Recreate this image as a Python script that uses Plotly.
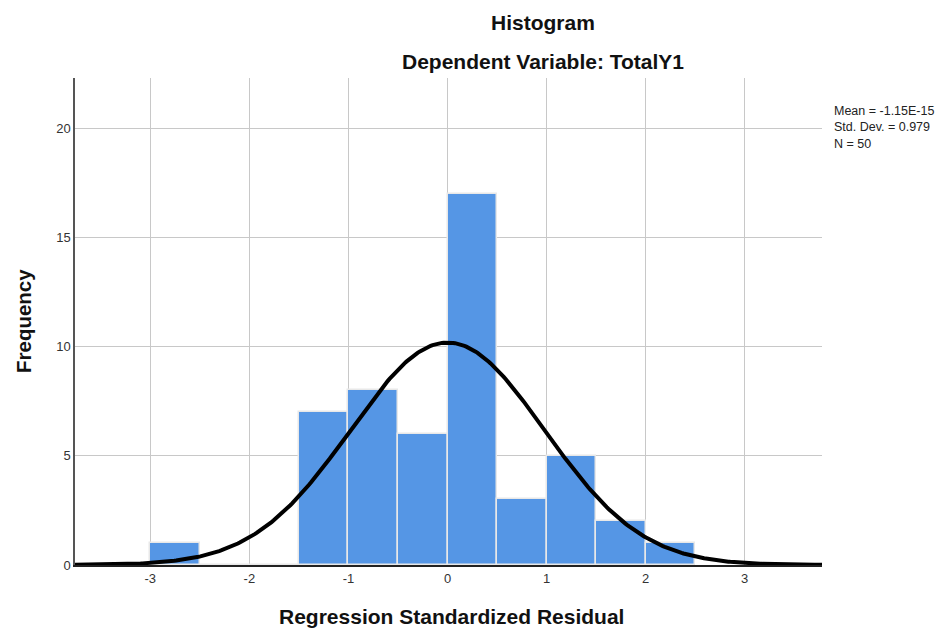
import numpy as np
import plotly.graph_objects as go

bin_left = [-3.0, -2.5, -2.0, -1.5, -1.0, -0.5, 0.0, 0.5, 1.0, 1.5, 2.0]
counts = [1, 0, 0, 7, 8, 6, 17, 3, 5, 2, 1]
bin_width = 0.5
mean = -1.15e-15
sd = 0.979
n = 50
x_ticks = [-3, -2, -1, 0, 1, 2, 3]
y_ticks = [0, 5, 10, 15, 20]
stats_lines = ["Mean = -1.15E-15", "Std. Dev. = 0.979", "N = 50"]

centers = [b + bin_width / 2 for b in bin_left]
xc = np.linspace(-3.76, 3.78, 400)
yc = n * bin_width / (sd * np.sqrt(2 * np.pi)) * np.exp(-0.5 * ((xc - mean) / sd) ** 2)

W, H = 947, 630
ML, MR, MT, MB = 67, 133, 70, 73
PW, PH = W - ML - MR, H - MT - MB
OFF = 8  # page body margin


def px(sx):
    return (sx - OFF - ML) / PW


def py(sy):
    return (H - MB - (sy - OFF)) / PH


fig = go.Figure()
fig.add_trace(go.Bar(x=centers, y=counts, width=bin_width,
                     marker=dict(color="#5596E5", line=dict(color="#E8E8E8", width=1.5)),
                     hoverinfo="skip"))
fig.add_trace(go.Scatter(x=xc, y=yc, mode="lines", line=dict(color="black", width=4),
                         hoverinfo="skip"))

font = "Liberation Sans, Arial, sans-serif"
anns = [
    dict(text="<b>Histogram</b>", x=px(543), y=py(22), font=dict(size=21, color="#111111")),
    dict(text="<b>Dependent Variable: TotalY1</b>", x=px(543), y=py(62), font=dict(size=21, color="#111111")),
    dict(text="<b>Regression Standardized Residual</b>", x=px(451), y=py(616), font=dict(size=21, color="#111111")),
    dict(text="<b>Frequency</b>", x=px(23), y=py(321), textangle=-90, font=dict(size=20.5, color="#111111")),
    dict(text="<br>".join(stats_lines), x=px(832), y=py(127), xanchor="left", align="left",
         font=dict(size=12.5, color="#222222")),
]
for a in anns:
    a.setdefault("xanchor", "center")
    a.update(xref="paper", yref="paper", showarrow=False, yanchor="middle")

fig.update_layout(
    width=W, height=H,
    margin=dict(l=ML, r=MR, t=MT, b=MB, autoexpand=False),
    paper_bgcolor="white", plot_bgcolor="white",
    showlegend=False, bargap=0,
    font=dict(family=font, color="#333333", size=13),
    xaxis=dict(range=[-3.76, 3.78], tickvals=x_ticks, ticktext=[str(v) for v in x_ticks],
               showgrid=True, gridcolor="#C8C8C8", gridwidth=1, zeroline=False,
               showline=True, linecolor="#222222", linewidth=2, ticks="",
               tickfont=dict(size=13, color="#333333"), automargin=False),
    yaxis=dict(range=[0, 22.3], tickvals=y_ticks, showgrid=True, gridcolor="#C8C8C8", gridwidth=1,
               zeroline=False, showline=True, linecolor="#555555", linewidth=1.5, ticks="",
               tickfont=dict(size=13, color="#333333"), automargin=False),
    annotations=anns,
)
fig.write_html("out.html")
